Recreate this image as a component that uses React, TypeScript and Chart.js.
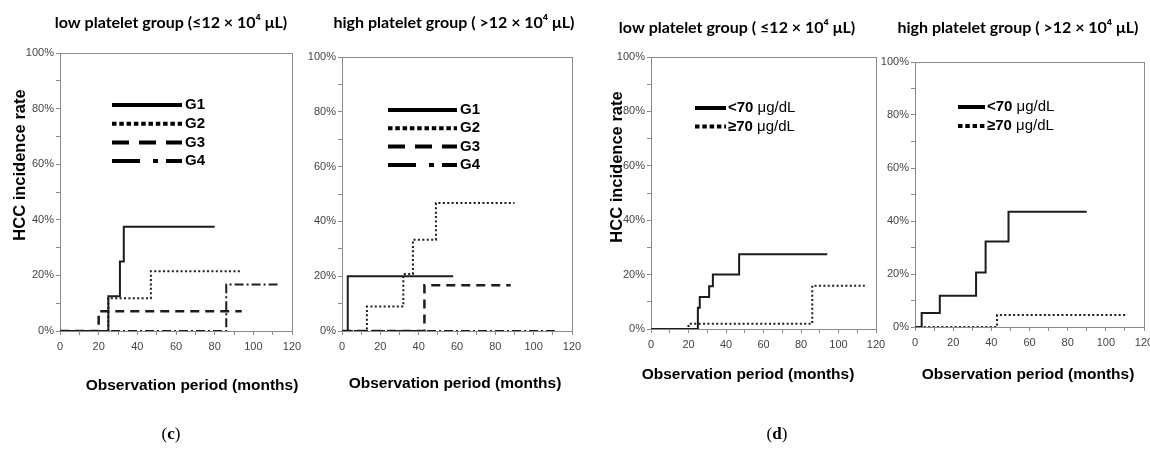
import React, { useEffect, useRef } from "react";
import { Chart, registerables } from "chart.js";

Chart.register(...registerables);

// ---------------- data ----------------
const MONTH_TICKS = [0, 20, 40, 60, 80, 100, 120];
const MONTH_TICK_LABELS = ["0", "20", "40", "60", "80", "100", "120"];
const RATE_TICKS = [0, 20, 40, 60, 80, 100];
const RATE_TICK_LABELS = ["0%", "20%", "40%", "60%", "80%", "100%"];

const GROUP_LABELS = ["G1", "G2", "G3", "G4"];
const ALB_LABELS = ["<70", "\u226570"];
const ALB_UNIT = " \u03bcg/dL";

const PANEL_TITLES = [
  "low platelet group (\u226412 \u00d7 10\u2074 \u03bcL)",
  "high platelet group ( >12 \u00d7 10\u2074 \u03bcL)",
  "low platelet group ( \u226412 \u00d7 10\u2074 \u03bcL)",
  "high platelet group ( >12 \u00d7 10\u2074 \u03bcL)",
];
const Y_TITLE = "HCC incidence rate";
const X_TITLE = "Observation period (months)";

// (c) low platelet
const cLowG1Months = [0, 25, 31, 33, 80];
const cLowG1Rates = [0, 12.5, 25, 37.5, 37.5];
const cLowG2Months = [0, 25, 47, 94];
const cLowG2Rates = [0, 11.8, 21.5, 21.5];
const cLowG3Months = [0, 20, 94];
const cLowG3Rates = [0, 7.1, 7.1];
const cLowG4Months = [0, 86, 114];
const cLowG4Rates = [0, 16.7, 16.7];

// (c) high platelet
const cHighG1Months = [0, 3, 58];
const cHighG1Rates = [0, 20, 20];
const cHighG2Months = [0, 13, 32, 37, 49, 90];
const cHighG2Rates = [0, 8.9, 20.8, 33.3, 46.7, 46.7];
const cHighG3Months = [0, 43, 88];
const cHighG3Rates = [0, 16.7, 16.7];
const cHighG4Months = [0, 111];
const cHighG4Rates = [0, 0];

// (d) low platelet
const dLowLtMonths = [0, 25, 26, 31, 33, 47, 94];
const dLowLtRates = [0, 7.8, 11.8, 15.7, 20, 27.5, 27.5];
const dLowGeMonths = [0, 20, 86, 114];
const dLowGeRates = [0, 1.9, 15.9, 15.9];

// (d) high platelet
const dHighLtMonths = [0, 3.5, 13, 32, 37, 49, 90];
const dHighLtRates = [0, 5.3, 11.8, 20.6, 32.3, 43.5, 43.5];
const dHighGeMonths = [0, 43, 111];
const dHighGeRates = [0, 4.5, 4.5];

// ---------------- styles ----------------
const LINE_COLOR = "#1c1c1c";
const AXIS_COLOR = "#8a8a8a";
const TICK_COLOR = "#444";
const TICK_FAMILY = "'Liberation Sans Narrow', 'Liberation Sans', Arial, sans-serif";
const TITLE_FONT = "bold 16px Lato, 'Open Sans', sans-serif";
const AXIS_TITLE_FONT = "bold 16.5px 'Liberation Sans', Arial, sans-serif";
const X_TITLE_FONT = "bold 15.5px 'Liberation Sans', Arial, sans-serif";
const LEGEND_BOLD = "bold 15px 'Liberation Sans', Arial, sans-serif";
const LEGEND_REG = "15px 'Liberation Sans', Arial, sans-serif";

const STYLE: Record<string, { dash: number[]; width: number; legendDash: number[] }> = {
  solid: { dash: [], width: 2, legendDash: [] },
  dotted: { dash: [2, 2.4], width: 2, legendDash: [4.5, 2.8] },
  dashed: { dash: [9, 6], width: 2.5, legendDash: [17, 10] },
  dashdot: { dash: [9, 3, 2, 3], width: 2, legendDash: [28, 13, 5, 8] },
};

type Series = { label: string; unit?: string; months: number[]; rates: number[]; style: string };
type PanelCfg = {
  title: string;
  titlePos: [number, number];
  area: { l: number; t: number; r: number; b: number };
  yTitlePos: [number, number] | null;
  xTitlePos: [number, number];
  legend: { x0: number; x1: number; tx: number; y0: number; dy: number };
  series: Series[];
};

const CANVAS_W = 1170;
const CANVAS_H = 456;
const Y_AXIS_W = 50;

const PANELS: PanelCfg[] = [
  {
    title: PANEL_TITLES[0],
    titlePos: [171, 23],
    area: { l: 60, t: 53, r: 292, b: 331 },
    yTitlePos: [20, 165],
    xTitlePos: [192, 386],
    legend: { x0: 112, x1: 182, tx: 185, y0: 105, dy: 18.7 },
    series: [
      { label: GROUP_LABELS[0], months: cLowG1Months, rates: cLowG1Rates, style: "solid" },
      { label: GROUP_LABELS[1], months: cLowG2Months, rates: cLowG2Rates, style: "dotted" },
      { label: GROUP_LABELS[2], months: cLowG3Months, rates: cLowG3Rates, style: "dashed" },
      { label: GROUP_LABELS[3], months: cLowG4Months, rates: cLowG4Rates, style: "dashdot" },
    ],
  },
  {
    title: PANEL_TITLES[1],
    titlePos: [454, 23],
    area: { l: 342, t: 57, r: 572, b: 331 },
    yTitlePos: null,
    xTitlePos: [455, 384],
    legend: { x0: 388, x1: 457, tx: 460, y0: 110, dy: 18.3 },
    series: [
      { label: GROUP_LABELS[0], months: cHighG1Months, rates: cHighG1Rates, style: "solid" },
      { label: GROUP_LABELS[1], months: cHighG2Months, rates: cHighG2Rates, style: "dotted" },
      { label: GROUP_LABELS[2], months: cHighG3Months, rates: cHighG3Rates, style: "dashed" },
      { label: GROUP_LABELS[3], months: cHighG4Months, rates: cHighG4Rates, style: "dashdot" },
    ],
  },
  {
    title: PANEL_TITLES[2],
    titlePos: [737, 28],
    area: { l: 651, t: 57, r: 876, b: 329 },
    yTitlePos: [617, 167],
    xTitlePos: [748, 375],
    legend: { x0: 695, x1: 726, tx: 728, y0: 108, dy: 18.5 },
    series: [
      { label: ALB_LABELS[0], unit: ALB_UNIT, months: dLowLtMonths, rates: dLowLtRates, style: "solid" },
      { label: ALB_LABELS[1], unit: ALB_UNIT, months: dLowGeMonths, rates: dLowGeRates, style: "dotted" },
    ],
  },
  {
    title: PANEL_TITLES[3],
    titlePos: [1018, 28],
    area: { l: 915, t: 62, r: 1144, b: 327 },
    yTitlePos: null,
    xTitlePos: [1028, 375],
    legend: { x0: 958, x1: 985, tx: 987, y0: 107, dy: 19 },
    series: [
      { label: ALB_LABELS[0], unit: ALB_UNIT, months: dHighLtMonths, rates: dHighLtRates, style: "solid" },
      { label: ALB_LABELS[1], unit: ALB_UNIT, months: dHighGeMonths, rates: dHighGeRates, style: "dotted" },
    ],
  },
];

function makeDecorPlugin(cfg: PanelCfg) {
  return {
    id: "decor",
    beforeDraw(chart: any) {
      try {
        chart.ctx.fontStretch = "condensed";
      } catch (e) {}
    },
    beforeDatasetsDraw(chart: any) {
      const { ctx, chartArea } = chart;
      ctx.save();
      ctx.strokeStyle = AXIS_COLOR;
      ctx.lineWidth = 1;
      ctx.strokeRect(chartArea.left + 0.5, chartArea.top + 0.5, chartArea.right - chartArea.left, chartArea.bottom - chartArea.top);
      ctx.restore();
    },
    afterDraw(chart: any) {
      const { ctx } = chart;
      ctx.save();
      try {
        ctx.fontStretch = "normal";
      } catch (e) {}
      ctx.fillStyle = "#000";
      ctx.textAlign = "center";
      ctx.textBaseline = "middle";
      ctx.font = TITLE_FONT;
      ctx.fillText(cfg.title, cfg.titlePos[0], cfg.titlePos[1]);
      ctx.font = X_TITLE_FONT;
      ctx.fillText(X_TITLE, cfg.xTitlePos[0], cfg.xTitlePos[1]);
      if (cfg.yTitlePos) {
        ctx.save();
        ctx.translate(cfg.yTitlePos[0], cfg.yTitlePos[1]);
        ctx.rotate(-Math.PI / 2);
        ctx.font = AXIS_TITLE_FONT;
        ctx.fillText(Y_TITLE, 0, 0);
        ctx.restore();
      }
      // legend
      const lg = cfg.legend;
      cfg.series.forEach((s, i) => {
        const y = lg.y0 + i * lg.dy;
        ctx.save();
        ctx.strokeStyle = "#000";
        ctx.lineWidth = 4;
        ctx.lineCap = "butt";
        ctx.setLineDash(STYLE[s.style].legendDash);
        ctx.beginPath();
        ctx.moveTo(lg.x0, y);
        ctx.lineTo(lg.x1, y);
        ctx.stroke();
        ctx.setLineDash([]);
        ctx.textAlign = "left";
        ctx.textBaseline = "middle";
        ctx.font = LEGEND_BOLD;
        ctx.fillText(s.label, lg.tx, y);
        if (s.unit) {
          const w = ctx.measureText(s.label).width;
          ctx.font = LEGEND_REG;
          ctx.fillText(s.unit, lg.tx + w, y);
        }
        ctx.restore();
      });
      ctx.restore();
    },
  };
}

function Panel({ cfg }: { cfg: PanelCfg }) {
  const ref = useRef<HTMLCanvasElement>(null);
  useEffect(() => {
    const a = cfg.area;
    const chart = new Chart(ref.current as HTMLCanvasElement, {
      type: "line",
      data: {
        datasets: cfg.series.map((s) => ({
          label: s.label,
          data: s.months.map((m, i) => ({ x: m, y: s.rates[i] })),
          borderColor: LINE_COLOR,
          borderWidth: STYLE[s.style].width,
          borderDash: STYLE[s.style].dash,
          borderCapStyle: "butt",
          stepped: "before",
          pointRadius: 0,
          fill: false,
          tension: 0,
        })),
      },
      options: {
        responsive: false,
        animation: false,
        events: [],
        layout: { padding: { left: a.l - Y_AXIS_W, top: a.t, right: CANVAS_W - a.r, bottom: 0 } },
        plugins: { legend: { display: false }, title: { display: false }, tooltip: { enabled: false } },
        scales: {
          x: {
            type: "linear",
            min: 0,
            max: 120,
            ticks: {
              stepSize: 10,
              autoSkip: false,
              maxRotation: 0,
              padding: 5,
              color: TICK_COLOR,
              font: { family: TICK_FAMILY, size: 11 },
              callback: (v: any) => {
                const k = MONTH_TICKS.indexOf(Number(v));
                return k >= 0 ? MONTH_TICK_LABELS[k] : "";
              },
            },
            grid: { drawOnChartArea: false, drawTicks: true, tickLength: 4, color: AXIS_COLOR },
            border: { display: true, color: AXIS_COLOR, width: 1 },
            afterFit: (s: any) => {
              s.height = CANVAS_H - a.b;
            },
          },
          y: {
            type: "linear",
            min: 0,
            max: 100,
            ticks: {
              stepSize: 10,
              autoSkip: false,
              padding: 2,
              color: TICK_COLOR,
              font: { family: TICK_FAMILY, size: 11 },
              callback: (v: any) => {
                const k = RATE_TICKS.indexOf(Number(v));
                return k >= 0 ? RATE_TICK_LABELS[k] : "";
              },
            },
            grid: { drawOnChartArea: false, drawTicks: true, tickLength: 4, color: AXIS_COLOR },
            border: { display: true, color: AXIS_COLOR, width: 1 },
            afterFit: (s: any) => {
              s.width = Y_AXIS_W;
            },
          },
        },
      } as any,
      plugins: [makeDecorPlugin(cfg)],
    });
    return () => chart.destroy();
  }, [cfg]);
  return (
    <canvas
      ref={ref}
      width={CANVAS_W}
      height={CANVAS_H}
      style={{ position: "absolute", left: 0, top: 0, width: CANVAS_W, height: CANVAS_H }}
    />
  );
}

const captionStyle: React.CSSProperties = {
  position: "absolute",
  transform: "translate(-50%, -50%)",
  fontFamily: "'Liberation Serif', 'DejaVu Serif', serif",
  fontSize: 17,
  color: "#000",
  whiteSpace: "nowrap",
};

export default function App() {
  return (
    <div
      style={{
        position: "absolute",
        left: 0,
        top: 0,
        width: 1150,
        height: 456,
        overflow: "hidden",
        background: "#fff",
      }}
    >
      {PANELS.map((p, i) => (
        <Panel key={i} cfg={p} />
      ))}
      <div style={{ ...captionStyle, left: 171, top: 434 }}>
        (<b>c</b>)
      </div>
      <div style={{ ...captionStyle, left: 777, top: 434 }}>
        (<b>d</b>)
      </div>
    </div>
  );
}
